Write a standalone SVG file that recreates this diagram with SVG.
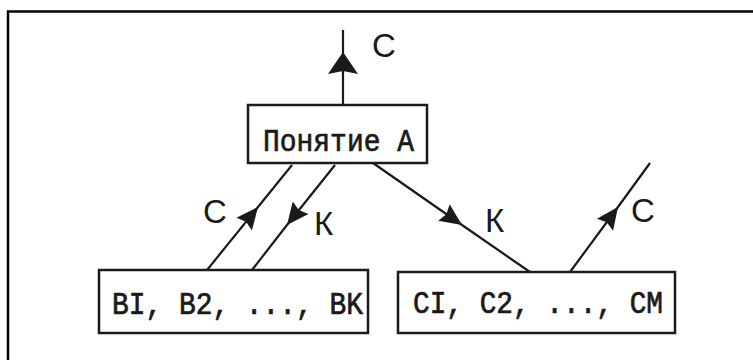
<svg xmlns="http://www.w3.org/2000/svg" width="753" height="360" viewBox="0 0 753 360">
<style>
.frame{stroke:#000;stroke-width:2.5;fill:none}
.box{fill:#fff;stroke:#1a1a1a;stroke-width:2.5}
.tx{font-family:"Liberation Mono","DejaVu Sans Mono",monospace;font-size:31px;fill:#1a1a1a;stroke:#1a1a1a;stroke-width:0.7}
.lb{font-family:"Liberation Sans","DejaVu Sans",sans-serif;font-size:33px;fill:#1a1a1a}
.ln{stroke:#1a1a1a;stroke-width:2.2;fill:none;marker-mid:url(#ah)}
</style>
<defs>
<marker id="ah" markerUnits="userSpaceOnUse" markerWidth="24" markerHeight="22" viewBox="0 0 24 22" refX="22" refY="11" orient="auto">
<path d="M0,1 L22,11 L0,21 L3,11 Z" fill="#1a1a1a"/>
</marker>
<marker id="ahBig" markerUnits="userSpaceOnUse" markerWidth="24" markerHeight="32" viewBox="0 0 24 32" refX="22" refY="16" orient="auto">
<path d="M0,1 L22,16 L0,31 L3,16 Z" fill="#1a1a1a"/>
</marker>
</defs>
<rect width="753" height="360" fill="#fff"/>
<path class="frame" d="M8,362 L8,11.5 L755,11.5"/>
<g id="connectors">
<polyline class="ln" style="marker-mid:url(#ahBig)" points="343,105 343,52 343,30"/>
<polyline class="ln" points="207,270 258,207 292,165"/>
<polyline class="ln" points="335,165 287,225 252,270"/>
<polyline class="ln" points="373,163 462,225 530,272"/>
<polyline class="ln" points="570,272 618,207 650,163"/>
</g>
<g id="labels">
<text class="lb" x="372" y="57">С</text>
<text class="lb" x="203" y="223">С</text>
<text class="lb" x="314" y="235">К</text>
<text class="lb" x="485" y="232">К</text>
<text class="lb" x="631" y="222">С</text>
</g>
<g id="nodeA">
<rect class="box" x="248" y="105" width="179" height="58"/>
<text class="tx" x="263" y="151" textLength="151" lengthAdjust="spacingAndGlyphs">Понятие А</text>
</g>
<g id="nodeB">
<rect class="box" x="99" y="270" width="269" height="63"/>
<text class="tx" x="112" y="314" textLength="251" lengthAdjust="spacingAndGlyphs">BI, B2, ..., BK</text>
</g>
<g id="nodeC">
<rect class="box" x="398" y="272" width="277" height="61"/>
<text class="tx" x="413" y="313" textLength="250" lengthAdjust="spacingAndGlyphs">CI, C2, ..., CM</text>
</g>
</svg>
